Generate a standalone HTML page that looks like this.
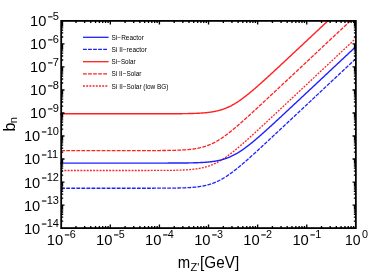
<!DOCTYPE html>
<html><head><meta charset="utf-8"><title>plot</title>
<style>html,body{margin:0;padding:0;background:#fff;}svg{display:block;will-change:transform;font-family:"Liberation Sans",sans-serif;}</style></head><body>
<svg width="368" height="273" viewBox="0 0 368 273">
<rect x="0" y="0" width="368" height="273" fill="#fff"/>
<defs><clipPath id="cp"><rect x="60.00" y="20.90" width="296.85" height="207.20"/></clipPath></defs>
<g clip-path="url(#cp)" fill="none" stroke-linejoin="round">
<path d="M60.00 113.80 L60.50 113.80 L61.00 113.80 L61.50 113.80 L62.00 113.80 L62.50 113.80 L63.00 113.80 L63.50 113.80 L64.00 113.80 L64.50 113.80 L65.00 113.80 L65.50 113.80 L66.00 113.80 L66.50 113.80 L67.00 113.80 L67.50 113.80 L68.00 113.80 L68.50 113.80 L69.00 113.80 L69.50 113.80 L70.00 113.80 L70.50 113.80 L71.00 113.80 L71.50 113.80 L72.00 113.80 L72.50 113.80 L73.00 113.80 L73.50 113.80 L74.00 113.80 L74.50 113.80 L75.00 113.80 L75.50 113.80 L76.00 113.80 L76.50 113.80 L77.00 113.80 L77.50 113.80 L78.00 113.80 L78.50 113.80 L79.00 113.80 L79.50 113.80 L80.00 113.80 L80.50 113.80 L81.00 113.80 L81.50 113.80 L82.00 113.80 L82.50 113.80 L83.00 113.80 L83.50 113.80 L84.00 113.80 L84.50 113.80 L85.00 113.80 L85.50 113.80 L86.00 113.80 L86.50 113.80 L87.00 113.80 L87.50 113.80 L88.00 113.80 L88.50 113.80 L89.00 113.80 L89.50 113.80 L90.00 113.80 L90.50 113.80 L91.00 113.80 L91.50 113.80 L92.00 113.80 L92.50 113.80 L93.00 113.80 L93.50 113.80 L94.00 113.80 L94.50 113.80 L95.00 113.80 L95.50 113.80 L96.00 113.80 L96.50 113.80 L97.00 113.80 L97.50 113.80 L98.00 113.80 L98.50 113.80 L99.00 113.80 L99.50 113.80 L100.00 113.80 L100.50 113.80 L101.00 113.80 L101.50 113.80 L102.00 113.80 L102.50 113.80 L103.00 113.80 L103.50 113.80 L104.00 113.80 L104.50 113.80 L105.00 113.80 L105.50 113.80 L106.00 113.80 L106.50 113.80 L107.00 113.80 L107.50 113.80 L108.00 113.80 L108.50 113.80 L109.00 113.80 L109.50 113.80 L110.00 113.80 L110.50 113.80 L111.00 113.80 L111.50 113.80 L112.00 113.80 L112.50 113.80 L113.00 113.80 L113.50 113.80 L114.00 113.80 L114.50 113.80 L115.00 113.80 L115.50 113.80 L116.00 113.80 L116.50 113.80 L117.00 113.80 L117.50 113.80 L118.00 113.80 L118.50 113.80 L119.00 113.80 L119.50 113.80 L120.00 113.80 L120.50 113.80 L121.00 113.80 L121.50 113.80 L122.00 113.80 L122.50 113.80 L123.00 113.80 L123.50 113.80 L124.00 113.80 L124.50 113.80 L125.00 113.80 L125.50 113.80 L126.00 113.80 L126.50 113.80 L127.00 113.80 L127.50 113.80 L128.00 113.80 L128.50 113.80 L129.00 113.80 L129.50 113.80 L130.00 113.80 L130.50 113.80 L131.00 113.80 L131.50 113.80 L132.00 113.80 L132.50 113.80 L133.00 113.80 L133.50 113.80 L134.00 113.80 L134.50 113.80 L135.00 113.80 L135.50 113.80 L136.00 113.80 L136.50 113.80 L137.00 113.80 L137.50 113.80 L138.00 113.80 L138.50 113.80 L139.00 113.80 L139.50 113.80 L140.00 113.80 L140.50 113.80 L141.00 113.80 L141.50 113.80 L142.00 113.80 L142.50 113.80 L143.00 113.80 L143.50 113.80 L144.00 113.80 L144.50 113.80 L145.00 113.80 L145.50 113.80 L146.00 113.80 L146.50 113.80 L147.00 113.80 L147.50 113.80 L148.00 113.79 L148.50 113.79 L149.00 113.79 L149.50 113.79 L150.00 113.79 L150.50 113.79 L151.00 113.79 L151.50 113.79 L152.00 113.79 L152.50 113.79 L153.00 113.79 L153.50 113.79 L154.00 113.79 L154.50 113.79 L155.00 113.79 L155.50 113.79 L156.00 113.79 L156.50 113.79 L157.00 113.79 L157.50 113.79 L158.00 113.79 L158.50 113.79 L159.00 113.79 L159.50 113.78 L160.00 113.78 L160.50 113.78 L161.00 113.78 L161.50 113.78 L162.00 113.78 L162.50 113.78 L163.00 113.78 L163.50 113.78 L164.00 113.78 L164.50 113.78 L165.00 113.77 L165.50 113.77 L166.00 113.77 L166.50 113.77 L167.00 113.77 L167.50 113.77 L168.00 113.77 L168.50 113.77 L169.00 113.76 L169.50 113.76 L170.00 113.76 L170.50 113.76 L171.00 113.76 L171.50 113.75 L172.00 113.75 L172.50 113.75 L173.00 113.75 L173.50 113.74 L174.00 113.74 L174.50 113.74 L175.00 113.74 L175.50 113.73 L176.00 113.73 L176.50 113.73 L177.00 113.72 L177.50 113.72 L178.00 113.72 L178.50 113.71 L179.00 113.71 L179.50 113.70 L180.00 113.70 L180.50 113.69 L181.00 113.69 L181.50 113.68 L182.00 113.68 L182.50 113.67 L183.00 113.66 L183.50 113.66 L184.00 113.65 L184.50 113.64 L185.00 113.64 L185.50 113.63 L186.00 113.62 L186.50 113.61 L187.00 113.60 L187.50 113.59 L188.00 113.58 L188.50 113.57 L189.00 113.56 L189.50 113.55 L190.00 113.54 L190.50 113.53 L191.00 113.52 L191.50 113.50 L192.00 113.49 L192.50 113.47 L193.00 113.46 L193.50 113.44 L194.00 113.42 L194.50 113.41 L195.00 113.39 L195.50 113.37 L196.00 113.35 L196.50 113.33 L197.00 113.31 L197.50 113.28 L198.00 113.26 L198.50 113.23 L199.00 113.21 L199.50 113.18 L200.00 113.15 L200.50 113.12 L201.00 113.09 L201.50 113.06 L202.00 113.02 L202.50 112.99 L203.00 112.95 L203.50 112.91 L204.00 112.87 L204.50 112.83 L205.00 112.78 L205.50 112.73 L206.00 112.69 L206.50 112.64 L207.00 112.58 L207.50 112.53 L208.00 112.47 L208.50 112.41 L209.00 112.35 L209.50 112.28 L210.00 112.22 L210.50 112.15 L211.00 112.07 L211.50 112.00 L212.00 111.92 L212.50 111.84 L213.00 111.75 L213.50 111.66 L214.00 111.57 L214.50 111.48 L215.00 111.38 L215.50 111.27 L216.00 111.17 L216.50 111.06 L217.00 110.94 L217.50 110.82 L218.00 110.70 L218.50 110.58 L219.00 110.44 L219.50 110.31 L220.00 110.17 L220.50 110.02 L221.00 109.87 L221.50 109.72 L222.00 109.56 L222.50 109.39 L223.00 109.22 L223.50 109.05 L224.00 108.87 L224.50 108.68 L225.00 108.49 L225.50 108.30 L226.00 108.10 L226.50 107.89 L227.00 107.68 L227.50 107.46 L228.00 107.24 L228.50 107.01 L229.00 106.78 L229.50 106.54 L230.00 106.29 L230.50 106.04 L231.00 105.79 L231.50 105.52 L232.00 105.26 L232.50 104.99 L233.00 104.71 L233.50 104.43 L234.00 104.14 L234.50 103.84 L235.00 103.55 L235.50 103.24 L236.00 102.93 L236.50 102.62 L237.00 102.30 L237.50 101.98 L238.00 101.65 L238.50 101.32 L239.00 100.99 L239.50 100.64 L240.00 100.30 L240.50 99.95 L241.00 99.60 L241.50 99.24 L242.00 98.88 L242.50 98.51 L243.00 98.14 L243.50 97.77 L244.00 97.39 L244.50 97.01 L245.00 96.63 L245.50 96.25 L246.00 95.86 L246.50 95.46 L247.00 95.07 L247.50 94.67 L248.00 94.27 L248.50 93.87 L249.00 93.46 L249.50 93.05 L250.00 92.64 L250.50 92.23 L251.00 91.81 L251.50 91.39 L252.00 90.97 L252.50 90.55 L253.00 90.13 L253.50 89.70 L254.00 89.27 L254.50 88.84 L255.00 88.41 L255.50 87.98 L256.00 87.55 L256.50 87.11 L257.00 86.67 L257.50 86.23 L258.00 85.80 L258.50 85.35 L259.00 84.91 L259.50 84.47 L260.00 84.02 L260.50 83.58 L261.00 83.13 L261.50 82.68 L262.00 82.24 L262.50 81.79 L263.00 81.34 L263.50 80.89 L264.00 80.43 L264.50 79.98 L265.00 79.53 L265.50 79.07 L266.00 78.62 L266.50 78.16 L267.00 77.71 L267.50 77.25 L268.00 76.80 L268.50 76.34 L269.00 75.88 L269.50 75.42 L270.00 74.96 L270.50 74.50 L271.00 74.04 L271.50 73.58 L272.00 73.12 L272.50 72.66 L273.00 72.20 L273.50 71.74 L274.00 71.28 L274.50 70.81 L275.00 70.35 L275.50 69.89 L276.00 69.43 L276.50 68.96 L277.00 68.50 L277.50 68.04 L278.00 67.57 L278.50 67.11 L279.00 66.64 L279.50 66.18 L280.00 65.71 L280.50 65.25 L281.00 64.78 L281.50 64.32 L282.00 63.85 L282.50 63.39 L283.00 62.92 L283.50 62.45 L284.00 61.99 L284.50 61.52 L285.00 61.06 L285.50 60.59 L286.00 60.12 L286.50 59.66 L287.00 59.19 L287.50 58.72 L288.00 58.25 L288.50 57.79 L289.00 57.32 L289.50 56.85 L290.00 56.39 L290.50 55.92 L291.00 55.45 L291.50 54.98 L292.00 54.52 L292.50 54.05 L293.00 53.58 L293.50 53.11 L294.00 52.65 L294.50 52.18 L295.00 51.71 L295.50 51.24 L296.00 50.77 L296.50 50.31 L297.00 49.84 L297.50 49.37 L298.00 48.90 L298.50 48.43 L299.00 47.97 L299.50 47.50 L300.00 47.03 L300.50 46.56 L301.00 46.09 L301.50 45.62 L302.00 45.16 L302.50 44.69 L303.00 44.22 L303.50 43.75 L304.00 43.28 L304.50 42.81 L305.00 42.35 L305.50 41.88 L306.00 41.41 L306.50 40.94 L307.00 40.47 L307.50 40.00 L308.00 39.54 L308.50 39.07 L309.00 38.60 L309.50 38.13 L310.00 37.66 L310.50 37.19 L311.00 36.72 L311.50 36.26 L312.00 35.79 L312.50 35.32 L313.00 34.85 L313.50 34.38 L314.00 33.91 L314.50 33.44 L315.00 32.97 L315.50 32.51 L316.00 32.04 L316.50 31.57 L317.00 31.10 L317.50 30.63 L318.00 30.16 L318.50 29.69 L319.00 29.23 L319.50 28.76 L320.00 28.29 L320.50 27.82 L321.00 27.35 L321.50 26.88 L322.00 26.41 L322.50 25.94 L323.00 25.48 L323.50 25.01 L324.00 24.54 L324.50 24.07 L325.00 23.60 L325.50 23.13 L326.00 22.66 L326.50 22.19 L327.00 21.73 L327.50 21.26 L328.00 20.79 L328.50 20.32 L329.00 19.85 L329.50 19.38 L330.00 18.91 L330.50 18.44 L331.00 17.98 L331.50 17.51 L332.00 17.04 L332.50 16.57 L333.00 16.10 L333.50 15.63 L334.00 15.16 L334.50 14.69 L335.00 14.23 L335.50 13.76 L336.00 13.29 L336.50 12.82 L337.00 12.35 L337.50 11.88 L338.00 11.41 L338.50 10.94 L339.00 10.48 L339.50 10.01 L340.00 9.54 L340.50 9.07 L341.00 8.60 L341.50 8.13 L342.00 7.66 L342.50 7.19 L343.00 6.72 L343.50 6.26 L344.00 5.79 L344.50 5.32 L345.00 4.85 L345.50 4.38 L346.00 3.91 L346.50 3.44 L347.00 2.97 L347.50 2.51 L348.00 2.04 L348.50 1.57 L349.00 1.10 L349.50 0.63 L350.00 0.16 L350.50 -0.31 L351.00 -0.78 L351.50 -1.24 L352.00 -1.71 L352.50 -2.18 L353.00 -2.65 L353.50 -3.12 L354.00 -3.59 L354.50 -4.06 L355.00 -4.53 L355.50 -5.00 L356.00 -5.46" stroke="#ff2020" stroke-width="1.40"/>
<path d="M61.20 150.60 L61.70 150.60 L62.20 150.60 L62.70 150.60 L63.20 150.60 L63.70 150.60 L64.20 150.60 L64.70 150.60 L65.20 150.60 L65.70 150.60 L66.20 150.60 L66.70 150.60 L67.20 150.60 L67.70 150.60 L68.20 150.60 L68.70 150.60 L69.20 150.60 L69.70 150.60 L70.20 150.60 L70.70 150.60 L71.20 150.60 L71.70 150.60 L72.20 150.60 L72.70 150.60 L73.20 150.60 L73.70 150.60 L74.20 150.60 L74.70 150.60 L75.20 150.60 L75.70 150.60 L76.20 150.60 L76.70 150.60 L77.20 150.60 L77.70 150.60 L78.20 150.60 L78.70 150.60 L79.20 150.60 L79.70 150.60 L80.20 150.60 L80.70 150.60 L81.20 150.60 L81.70 150.60 L82.20 150.60 L82.70 150.60 L83.20 150.60 L83.70 150.60 L84.20 150.60 L84.70 150.60 L85.20 150.60 L85.70 150.60 L86.20 150.60 L86.70 150.60 L87.20 150.60 L87.70 150.60 L88.20 150.60 L88.70 150.60 L89.20 150.60 L89.70 150.60 L90.20 150.60 L90.70 150.60 L91.20 150.60 L91.70 150.60 L92.20 150.60 L92.70 150.60 L93.20 150.60 L93.70 150.60 L94.20 150.60 L94.70 150.60 L95.20 150.60 L95.70 150.60 L96.20 150.60 L96.70 150.60 L97.20 150.60 L97.70 150.60 L98.20 150.60 L98.70 150.60 L99.20 150.60 L99.70 150.60 L100.20 150.60 L100.70 150.60 L101.20 150.60 L101.70 150.60 L102.20 150.60 L102.70 150.60 L103.20 150.60 L103.70 150.60 L104.20 150.60 L104.70 150.60 L105.20 150.60 L105.70 150.60 L106.20 150.60 L106.70 150.60 L107.20 150.60 L107.70 150.60 L108.20 150.60 L108.70 150.60 L109.20 150.60 L109.70 150.60 L110.20 150.60 L110.70 150.60 L111.20 150.60 L111.70 150.60 L112.20 150.60 L112.70 150.60 L113.20 150.60 L113.70 150.60 L114.20 150.60 L114.70 150.60 L115.20 150.60 L115.70 150.60 L116.20 150.60 L116.70 150.60 L117.20 150.60 L117.70 150.60 L118.20 150.60 L118.70 150.60 L119.20 150.60 L119.70 150.60 L120.20 150.60 L120.70 150.60 L121.20 150.60 L121.70 150.60 L122.20 150.60 L122.70 150.60 L123.20 150.60 L123.70 150.60 L124.20 150.60 L124.70 150.60 L125.20 150.60 L125.70 150.60 L126.20 150.60 L126.70 150.60 L127.20 150.60 L127.70 150.60 L128.20 150.60 L128.70 150.60 L129.20 150.60 L129.70 150.60 L130.20 150.60 L130.70 150.60 L131.20 150.59 L131.70 150.59 L132.20 150.59 L132.70 150.59 L133.20 150.59 L133.70 150.59 L134.20 150.59 L134.70 150.59 L135.20 150.59 L135.70 150.59 L136.20 150.59 L136.70 150.59 L137.20 150.59 L137.70 150.59 L138.20 150.59 L138.70 150.59 L139.20 150.59 L139.70 150.59 L140.20 150.59 L140.70 150.59 L141.20 150.59 L141.70 150.59 L142.20 150.59 L142.70 150.58 L143.20 150.58 L143.70 150.58 L144.20 150.58 L144.70 150.58 L145.20 150.58 L145.70 150.58 L146.20 150.58 L146.70 150.58 L147.20 150.58 L147.70 150.58 L148.20 150.57 L148.70 150.57 L149.20 150.57 L149.70 150.57 L150.20 150.57 L150.70 150.57 L151.20 150.57 L151.70 150.57 L152.20 150.56 L152.70 150.56 L153.20 150.56 L153.70 150.56 L154.20 150.56 L154.70 150.55 L155.20 150.55 L155.70 150.55 L156.20 150.55 L156.70 150.54 L157.20 150.54 L157.70 150.54 L158.20 150.54 L158.70 150.53 L159.20 150.53 L159.70 150.53 L160.20 150.52 L160.70 150.52 L161.20 150.52 L161.70 150.51 L162.20 150.51 L162.70 150.50 L163.20 150.50 L163.70 150.49 L164.20 150.49 L164.70 150.48 L165.20 150.48 L165.70 150.47 L166.20 150.46 L166.70 150.46 L167.20 150.45 L167.70 150.44 L168.20 150.44 L168.70 150.43 L169.20 150.42 L169.70 150.41 L170.20 150.40 L170.70 150.39 L171.20 150.38 L171.70 150.37 L172.20 150.36 L172.70 150.35 L173.20 150.34 L173.70 150.33 L174.20 150.32 L174.70 150.30 L175.20 150.29 L175.70 150.27 L176.20 150.26 L176.70 150.24 L177.20 150.22 L177.70 150.21 L178.20 150.19 L178.70 150.17 L179.20 150.15 L179.70 150.13 L180.20 150.11 L180.70 150.08 L181.20 150.06 L181.70 150.03 L182.20 150.01 L182.70 149.98 L183.20 149.95 L183.70 149.92 L184.20 149.89 L184.70 149.86 L185.20 149.82 L185.70 149.79 L186.20 149.75 L186.70 149.71 L187.20 149.67 L187.70 149.63 L188.20 149.58 L188.70 149.53 L189.20 149.49 L189.70 149.44 L190.20 149.38 L190.70 149.33 L191.20 149.27 L191.70 149.21 L192.20 149.15 L192.70 149.08 L193.20 149.02 L193.70 148.95 L194.20 148.87 L194.70 148.80 L195.20 148.72 L195.70 148.64 L196.20 148.55 L196.70 148.46 L197.20 148.37 L197.70 148.28 L198.20 148.18 L198.70 148.07 L199.20 147.97 L199.70 147.86 L200.20 147.74 L200.70 147.62 L201.20 147.50 L201.70 147.38 L202.20 147.24 L202.70 147.11 L203.20 146.97 L203.70 146.82 L204.20 146.67 L204.70 146.52 L205.20 146.36 L205.70 146.19 L206.20 146.02 L206.70 145.85 L207.20 145.67 L207.70 145.48 L208.20 145.29 L208.70 145.10 L209.20 144.90 L209.70 144.69 L210.20 144.48 L210.70 144.26 L211.20 144.04 L211.70 143.81 L212.20 143.58 L212.70 143.34 L213.20 143.09 L213.70 142.84 L214.20 142.59 L214.70 142.32 L215.20 142.06 L215.70 141.79 L216.20 141.51 L216.70 141.23 L217.20 140.94 L217.70 140.64 L218.20 140.35 L218.70 140.04 L219.20 139.73 L219.70 139.42 L220.20 139.10 L220.70 138.78 L221.20 138.45 L221.70 138.12 L222.20 137.79 L222.70 137.44 L223.20 137.10 L223.70 136.75 L224.20 136.40 L224.70 136.04 L225.20 135.68 L225.70 135.31 L226.20 134.94 L226.70 134.57 L227.20 134.19 L227.70 133.81 L228.20 133.43 L228.70 133.05 L229.20 132.66 L229.70 132.26 L230.20 131.87 L230.70 131.47 L231.20 131.07 L231.70 130.67 L232.20 130.26 L232.70 129.85 L233.20 129.44 L233.70 129.03 L234.20 128.61 L234.70 128.19 L235.20 127.77 L235.70 127.35 L236.20 126.93 L236.70 126.50 L237.20 126.07 L237.70 125.64 L238.20 125.21 L238.70 124.78 L239.20 124.35 L239.70 123.91 L240.20 123.47 L240.70 123.03 L241.20 122.60 L241.70 122.15 L242.20 121.71 L242.70 121.27 L243.20 120.82 L243.70 120.38 L244.20 119.93 L244.70 119.48 L245.20 119.04 L245.70 118.59 L246.20 118.14 L246.70 117.69 L247.20 117.23 L247.70 116.78 L248.20 116.33 L248.70 115.87 L249.20 115.42 L249.70 114.96 L250.20 114.51 L250.70 114.05 L251.20 113.60 L251.70 113.14 L252.20 112.68 L252.70 112.22 L253.20 111.76 L253.70 111.30 L254.20 110.84 L254.70 110.38 L255.20 109.92 L255.70 109.46 L256.20 109.00 L256.70 108.54 L257.20 108.08 L257.70 107.61 L258.20 107.15 L258.70 106.69 L259.20 106.23 L259.70 105.76 L260.20 105.30 L260.70 104.84 L261.20 104.37 L261.70 103.91 L262.20 103.44 L262.70 102.98 L263.20 102.51 L263.70 102.05 L264.20 101.58 L264.70 101.12 L265.20 100.65 L265.70 100.19 L266.20 99.72 L266.70 99.25 L267.20 98.79 L267.70 98.32 L268.20 97.86 L268.70 97.39 L269.20 96.92 L269.70 96.46 L270.20 95.99 L270.70 95.52 L271.20 95.05 L271.70 94.59 L272.20 94.12 L272.70 93.65 L273.20 93.19 L273.70 92.72 L274.20 92.25 L274.70 91.78 L275.20 91.32 L275.70 90.85 L276.20 90.38 L276.70 89.91 L277.20 89.45 L277.70 88.98 L278.20 88.51 L278.70 88.04 L279.20 87.57 L279.70 87.11 L280.20 86.64 L280.70 86.17 L281.20 85.70 L281.70 85.23 L282.20 84.77 L282.70 84.30 L283.20 83.83 L283.70 83.36 L284.20 82.89 L284.70 82.42 L285.20 81.96 L285.70 81.49 L286.20 81.02 L286.70 80.55 L287.20 80.08 L287.70 79.61 L288.20 79.15 L288.70 78.68 L289.20 78.21 L289.70 77.74 L290.20 77.27 L290.70 76.80 L291.20 76.34 L291.70 75.87 L292.20 75.40 L292.70 74.93 L293.20 74.46 L293.70 73.99 L294.20 73.52 L294.70 73.06 L295.20 72.59 L295.70 72.12 L296.20 71.65 L296.70 71.18 L297.20 70.71 L297.70 70.24 L298.20 69.77 L298.70 69.31 L299.20 68.84 L299.70 68.37 L300.20 67.90 L300.70 67.43 L301.20 66.96 L301.70 66.49 L302.20 66.03 L302.70 65.56 L303.20 65.09 L303.70 64.62 L304.20 64.15 L304.70 63.68 L305.20 63.21 L305.70 62.74 L306.20 62.28 L306.70 61.81 L307.20 61.34 L307.70 60.87 L308.20 60.40 L308.70 59.93 L309.20 59.46 L309.70 58.99 L310.20 58.53 L310.70 58.06 L311.20 57.59 L311.70 57.12 L312.20 56.65 L312.70 56.18 L313.20 55.71 L313.70 55.24 L314.20 54.78 L314.70 54.31 L315.20 53.84 L315.70 53.37 L316.20 52.90 L316.70 52.43 L317.20 51.96 L317.70 51.49 L318.20 51.03 L318.70 50.56 L319.20 50.09 L319.70 49.62 L320.20 49.15 L320.70 48.68 L321.20 48.21 L321.70 47.74 L322.20 47.28 L322.70 46.81 L323.20 46.34 L323.70 45.87 L324.20 45.40 L324.70 44.93 L325.20 44.46 L325.70 43.99 L326.20 43.52 L326.70 43.06 L327.20 42.59 L327.70 42.12 L328.20 41.65 L328.70 41.18 L329.20 40.71 L329.70 40.24 L330.20 39.77 L330.70 39.31 L331.20 38.84 L331.70 38.37 L332.20 37.90 L332.70 37.43 L333.20 36.96 L333.70 36.49 L334.20 36.02 L334.70 35.56 L335.20 35.09 L335.70 34.62 L336.20 34.15 L336.70 33.68 L337.20 33.21 L337.70 32.74 L338.20 32.27 L338.70 31.80 L339.20 31.34 L339.70 30.87 L340.20 30.40 L340.70 29.93 L341.20 29.46 L341.70 28.99 L342.20 28.52 L342.70 28.05 L343.20 27.59 L343.70 27.12 L344.20 26.65 L344.70 26.18 L345.20 25.71 L345.70 25.24 L346.20 24.77 L346.70 24.30 L347.20 23.84 L347.70 23.37 L348.20 22.90 L348.70 22.43 L349.20 21.96 L349.70 21.49 L350.20 21.02 L350.70 20.55 L351.20 20.08 L351.70 19.62 L352.20 19.15 L352.70 18.68 L353.20 18.21 L353.70 17.74 L354.20 17.27 L354.70 16.80 L355.20 16.33 L355.70 15.87" stroke="#ff2020" stroke-width="1.30" stroke-dasharray="3.8 1.25"/>
<path d="M61.20 170.50 L61.70 170.50 L62.20 170.50 L62.70 170.50 L63.20 170.50 L63.70 170.50 L64.20 170.50 L64.70 170.50 L65.20 170.50 L65.70 170.50 L66.20 170.50 L66.70 170.50 L67.20 170.50 L67.70 170.50 L68.20 170.50 L68.70 170.50 L69.20 170.50 L69.70 170.50 L70.20 170.50 L70.70 170.50 L71.20 170.50 L71.70 170.50 L72.20 170.50 L72.70 170.50 L73.20 170.50 L73.70 170.50 L74.20 170.50 L74.70 170.50 L75.20 170.50 L75.70 170.50 L76.20 170.50 L76.70 170.50 L77.20 170.50 L77.70 170.50 L78.20 170.50 L78.70 170.50 L79.20 170.50 L79.70 170.50 L80.20 170.50 L80.70 170.50 L81.20 170.50 L81.70 170.50 L82.20 170.50 L82.70 170.50 L83.20 170.50 L83.70 170.50 L84.20 170.50 L84.70 170.50 L85.20 170.50 L85.70 170.50 L86.20 170.50 L86.70 170.50 L87.20 170.50 L87.70 170.50 L88.20 170.50 L88.70 170.50 L89.20 170.50 L89.70 170.50 L90.20 170.50 L90.70 170.50 L91.20 170.50 L91.70 170.50 L92.20 170.50 L92.70 170.50 L93.20 170.50 L93.70 170.50 L94.20 170.50 L94.70 170.50 L95.20 170.50 L95.70 170.50 L96.20 170.50 L96.70 170.50 L97.20 170.50 L97.70 170.50 L98.20 170.50 L98.70 170.50 L99.20 170.50 L99.70 170.50 L100.20 170.50 L100.70 170.50 L101.20 170.50 L101.70 170.50 L102.20 170.50 L102.70 170.50 L103.20 170.50 L103.70 170.50 L104.20 170.50 L104.70 170.50 L105.20 170.50 L105.70 170.50 L106.20 170.50 L106.70 170.50 L107.20 170.50 L107.70 170.50 L108.20 170.50 L108.70 170.50 L109.20 170.50 L109.70 170.50 L110.20 170.50 L110.70 170.50 L111.20 170.50 L111.70 170.50 L112.20 170.50 L112.70 170.50 L113.20 170.50 L113.70 170.50 L114.20 170.50 L114.70 170.50 L115.20 170.50 L115.70 170.50 L116.20 170.50 L116.70 170.50 L117.20 170.50 L117.70 170.50 L118.20 170.50 L118.70 170.50 L119.20 170.50 L119.70 170.50 L120.20 170.50 L120.70 170.50 L121.20 170.50 L121.70 170.50 L122.20 170.50 L122.70 170.50 L123.20 170.50 L123.70 170.50 L124.20 170.50 L124.70 170.50 L125.20 170.50 L125.70 170.50 L126.20 170.50 L126.70 170.50 L127.20 170.50 L127.70 170.50 L128.20 170.50 L128.70 170.50 L129.20 170.50 L129.70 170.50 L130.20 170.50 L130.70 170.50 L131.20 170.50 L131.70 170.50 L132.20 170.50 L132.70 170.50 L133.20 170.50 L133.70 170.50 L134.20 170.49 L134.70 170.49 L135.20 170.49 L135.70 170.49 L136.20 170.49 L136.70 170.49 L137.20 170.49 L137.70 170.49 L138.20 170.49 L138.70 170.49 L139.20 170.49 L139.70 170.49 L140.20 170.49 L140.70 170.49 L141.20 170.49 L141.70 170.49 L142.20 170.49 L142.70 170.49 L143.20 170.49 L143.70 170.49 L144.20 170.49 L144.70 170.49 L145.20 170.49 L145.70 170.48 L146.20 170.48 L146.70 170.48 L147.20 170.48 L147.70 170.48 L148.20 170.48 L148.70 170.48 L149.20 170.48 L149.70 170.48 L150.20 170.48 L150.70 170.48 L151.20 170.47 L151.70 170.47 L152.20 170.47 L152.70 170.47 L153.20 170.47 L153.70 170.47 L154.20 170.47 L154.70 170.46 L155.20 170.46 L155.70 170.46 L156.20 170.46 L156.70 170.46 L157.20 170.46 L157.70 170.45 L158.20 170.45 L158.70 170.45 L159.20 170.45 L159.70 170.44 L160.20 170.44 L160.70 170.44 L161.20 170.44 L161.70 170.43 L162.20 170.43 L162.70 170.43 L163.20 170.42 L163.70 170.42 L164.20 170.41 L164.70 170.41 L165.20 170.41 L165.70 170.40 L166.20 170.40 L166.70 170.39 L167.20 170.39 L167.70 170.38 L168.20 170.38 L168.70 170.37 L169.20 170.36 L169.70 170.36 L170.20 170.35 L170.70 170.34 L171.20 170.34 L171.70 170.33 L172.20 170.32 L172.70 170.31 L173.20 170.30 L173.70 170.29 L174.20 170.28 L174.70 170.27 L175.20 170.26 L175.70 170.25 L176.20 170.24 L176.70 170.23 L177.20 170.21 L177.70 170.20 L178.20 170.18 L178.70 170.17 L179.20 170.15 L179.70 170.14 L180.20 170.12 L180.70 170.10 L181.20 170.08 L181.70 170.07 L182.20 170.04 L182.70 170.02 L183.20 170.00 L183.70 169.98 L184.20 169.95 L184.70 169.93 L185.20 169.90 L185.70 169.87 L186.20 169.84 L186.70 169.81 L187.20 169.78 L187.70 169.75 L188.20 169.71 L188.70 169.68 L189.20 169.64 L189.70 169.60 L190.20 169.56 L190.70 169.52 L191.20 169.47 L191.70 169.42 L192.20 169.38 L192.70 169.32 L193.20 169.27 L193.70 169.22 L194.20 169.16 L194.70 169.10 L195.20 169.04 L195.70 168.97 L196.20 168.90 L196.70 168.83 L197.20 168.76 L197.70 168.68 L198.20 168.60 L198.70 168.52 L199.20 168.44 L199.70 168.35 L200.20 168.25 L200.70 168.16 L201.20 168.06 L201.70 167.95 L202.20 167.85 L202.70 167.74 L203.20 167.62 L203.70 167.50 L204.20 167.38 L204.70 167.25 L205.20 167.12 L205.70 166.98 L206.20 166.84 L206.70 166.69 L207.20 166.54 L207.70 166.39 L208.20 166.23 L208.70 166.06 L209.20 165.89 L209.70 165.71 L210.20 165.53 L210.70 165.35 L211.20 165.15 L211.70 164.96 L212.20 164.76 L212.70 164.55 L213.20 164.33 L213.70 164.12 L214.20 163.89 L214.70 163.66 L215.20 163.43 L215.70 163.19 L216.20 162.94 L216.70 162.69 L217.20 162.43 L217.70 162.17 L218.20 161.90 L218.70 161.63 L219.20 161.35 L219.70 161.07 L220.20 160.78 L220.70 160.49 L221.20 160.19 L221.70 159.88 L222.20 159.57 L222.70 159.26 L223.20 158.94 L223.70 158.62 L224.20 158.29 L224.70 157.95 L225.20 157.62 L225.70 157.28 L226.20 156.93 L226.70 156.58 L227.20 156.23 L227.70 155.87 L228.20 155.50 L228.70 155.14 L229.20 154.77 L229.70 154.40 L230.20 154.02 L230.70 153.64 L231.20 153.25 L231.70 152.87 L232.20 152.48 L232.70 152.08 L233.20 151.69 L233.70 151.29 L234.20 150.89 L234.70 150.48 L235.20 150.08 L235.70 149.67 L236.20 149.26 L236.70 148.84 L237.20 148.43 L237.70 148.01 L238.20 147.59 L238.70 147.17 L239.20 146.74 L239.70 146.32 L240.20 145.89 L240.70 145.46 L241.20 145.03 L241.70 144.59 L242.20 144.16 L242.70 143.72 L243.20 143.29 L243.70 142.85 L244.20 142.41 L244.70 141.97 L245.20 141.52 L245.70 141.08 L246.20 140.64 L246.70 140.19 L247.20 139.74 L247.70 139.30 L248.20 138.85 L248.70 138.40 L249.20 137.95 L249.70 137.50 L250.20 137.04 L250.70 136.59 L251.20 136.14 L251.70 135.68 L252.20 135.23 L252.70 134.77 L253.20 134.32 L253.70 133.86 L254.20 133.40 L254.70 132.95 L255.20 132.49 L255.70 132.03 L256.20 131.57 L256.70 131.11 L257.20 130.65 L257.70 130.19 L258.20 129.73 L258.70 129.27 L259.20 128.81 L259.70 128.35 L260.20 127.88 L260.70 127.42 L261.20 126.96 L261.70 126.50 L262.20 126.03 L262.70 125.57 L263.20 125.11 L263.70 124.64 L264.20 124.18 L264.70 123.71 L265.20 123.25 L265.70 122.78 L266.20 122.32 L266.70 121.85 L267.20 121.39 L267.70 120.92 L268.20 120.46 L268.70 119.99 L269.20 119.53 L269.70 119.06 L270.20 118.59 L270.70 118.13 L271.20 117.66 L271.70 117.20 L272.20 116.73 L272.70 116.26 L273.20 115.80 L273.70 115.33 L274.20 114.86 L274.70 114.39 L275.20 113.93 L275.70 113.46 L276.20 112.99 L276.70 112.53 L277.20 112.06 L277.70 111.59 L278.20 111.12 L278.70 110.66 L279.20 110.19 L279.70 109.72 L280.20 109.25 L280.70 108.78 L281.20 108.32 L281.70 107.85 L282.20 107.38 L282.70 106.91 L283.20 106.44 L283.70 105.98 L284.20 105.51 L284.70 105.04 L285.20 104.57 L285.70 104.10 L286.20 103.64 L286.70 103.17 L287.20 102.70 L287.70 102.23 L288.20 101.76 L288.70 101.29 L289.20 100.83 L289.70 100.36 L290.20 99.89 L290.70 99.42 L291.20 98.95 L291.70 98.48 L292.20 98.02 L292.70 97.55 L293.20 97.08 L293.70 96.61 L294.20 96.14 L294.70 95.67 L295.20 95.20 L295.70 94.74 L296.20 94.27 L296.70 93.80 L297.20 93.33 L297.70 92.86 L298.20 92.39 L298.70 91.92 L299.20 91.46 L299.70 90.99 L300.20 90.52 L300.70 90.05 L301.20 89.58 L301.70 89.11 L302.20 88.64 L302.70 88.18 L303.20 87.71 L303.70 87.24 L304.20 86.77 L304.70 86.30 L305.20 85.83 L305.70 85.36 L306.20 84.89 L306.70 84.43 L307.20 83.96 L307.70 83.49 L308.20 83.02 L308.70 82.55 L309.20 82.08 L309.70 81.61 L310.20 81.14 L310.70 80.68 L311.20 80.21 L311.70 79.74 L312.20 79.27 L312.70 78.80 L313.20 78.33 L313.70 77.86 L314.20 77.39 L314.70 76.93 L315.20 76.46 L315.70 75.99 L316.20 75.52 L316.70 75.05 L317.20 74.58 L317.70 74.11 L318.20 73.64 L318.70 73.18 L319.20 72.71 L319.70 72.24 L320.20 71.77 L320.70 71.30 L321.20 70.83 L321.70 70.36 L322.20 69.89 L322.70 69.43 L323.20 68.96 L323.70 68.49 L324.20 68.02 L324.70 67.55 L325.20 67.08 L325.70 66.61 L326.20 66.14 L326.70 65.67 L327.20 65.21 L327.70 64.74 L328.20 64.27 L328.70 63.80 L329.20 63.33 L329.70 62.86 L330.20 62.39 L330.70 61.92 L331.20 61.46 L331.70 60.99 L332.20 60.52 L332.70 60.05 L333.20 59.58 L333.70 59.11 L334.20 58.64 L334.70 58.17 L335.20 57.71 L335.70 57.24 L336.20 56.77 L336.70 56.30 L337.20 55.83 L337.70 55.36 L338.20 54.89 L338.70 54.42 L339.20 53.96 L339.70 53.49 L340.20 53.02 L340.70 52.55 L341.20 52.08 L341.70 51.61 L342.20 51.14 L342.70 50.67 L343.20 50.20 L343.70 49.74 L344.20 49.27 L344.70 48.80 L345.20 48.33 L345.70 47.86 L346.20 47.39 L346.70 46.92 L347.20 46.45 L347.70 45.99 L348.20 45.52 L348.70 45.05 L349.20 44.58 L349.70 44.11 L350.20 43.64 L350.70 43.17 L351.20 42.70 L351.70 42.23 L352.20 41.77 L352.70 41.30 L353.20 40.83 L353.70 40.36 L354.20 39.89 L354.70 39.42 L355.20 38.95 L355.70 38.48" stroke="#ff2020" stroke-width="1.30" stroke-dasharray="1.9 1.3"/>
<path d="M60.00 163.10 L60.50 163.10 L61.00 163.10 L61.50 163.10 L62.00 163.10 L62.50 163.10 L63.00 163.10 L63.50 163.10 L64.00 163.10 L64.50 163.10 L65.00 163.10 L65.50 163.10 L66.00 163.10 L66.50 163.10 L67.00 163.10 L67.50 163.10 L68.00 163.10 L68.50 163.10 L69.00 163.10 L69.50 163.10 L70.00 163.10 L70.50 163.10 L71.00 163.10 L71.50 163.10 L72.00 163.10 L72.50 163.10 L73.00 163.10 L73.50 163.10 L74.00 163.10 L74.50 163.10 L75.00 163.10 L75.50 163.10 L76.00 163.10 L76.50 163.10 L77.00 163.10 L77.50 163.10 L78.00 163.10 L78.50 163.10 L79.00 163.10 L79.50 163.10 L80.00 163.10 L80.50 163.10 L81.00 163.10 L81.50 163.10 L82.00 163.10 L82.50 163.10 L83.00 163.10 L83.50 163.10 L84.00 163.10 L84.50 163.10 L85.00 163.10 L85.50 163.10 L86.00 163.10 L86.50 163.10 L87.00 163.10 L87.50 163.10 L88.00 163.10 L88.50 163.10 L89.00 163.10 L89.50 163.10 L90.00 163.10 L90.50 163.10 L91.00 163.10 L91.50 163.10 L92.00 163.10 L92.50 163.10 L93.00 163.10 L93.50 163.10 L94.00 163.10 L94.50 163.10 L95.00 163.10 L95.50 163.10 L96.00 163.10 L96.50 163.10 L97.00 163.10 L97.50 163.10 L98.00 163.10 L98.50 163.10 L99.00 163.10 L99.50 163.10 L100.00 163.10 L100.50 163.10 L101.00 163.10 L101.50 163.10 L102.00 163.10 L102.50 163.10 L103.00 163.10 L103.50 163.10 L104.00 163.10 L104.50 163.10 L105.00 163.10 L105.50 163.10 L106.00 163.10 L106.50 163.10 L107.00 163.10 L107.50 163.10 L108.00 163.10 L108.50 163.10 L109.00 163.10 L109.50 163.10 L110.00 163.10 L110.50 163.10 L111.00 163.10 L111.50 163.10 L112.00 163.10 L112.50 163.10 L113.00 163.10 L113.50 163.10 L114.00 163.10 L114.50 163.10 L115.00 163.10 L115.50 163.10 L116.00 163.10 L116.50 163.10 L117.00 163.10 L117.50 163.10 L118.00 163.10 L118.50 163.10 L119.00 163.10 L119.50 163.10 L120.00 163.10 L120.50 163.10 L121.00 163.10 L121.50 163.10 L122.00 163.10 L122.50 163.10 L123.00 163.10 L123.50 163.10 L124.00 163.10 L124.50 163.10 L125.00 163.10 L125.50 163.10 L126.00 163.10 L126.50 163.10 L127.00 163.10 L127.50 163.10 L128.00 163.10 L128.50 163.10 L129.00 163.10 L129.50 163.10 L130.00 163.10 L130.50 163.10 L131.00 163.10 L131.50 163.10 L132.00 163.10 L132.50 163.10 L133.00 163.10 L133.50 163.10 L134.00 163.10 L134.50 163.10 L135.00 163.10 L135.50 163.10 L136.00 163.10 L136.50 163.10 L137.00 163.10 L137.50 163.10 L138.00 163.10 L138.50 163.10 L139.00 163.10 L139.50 163.10 L140.00 163.10 L140.50 163.10 L141.00 163.10 L141.50 163.10 L142.00 163.10 L142.50 163.10 L143.00 163.10 L143.50 163.10 L144.00 163.10 L144.50 163.10 L145.00 163.10 L145.50 163.10 L146.00 163.10 L146.50 163.10 L147.00 163.10 L147.50 163.10 L148.00 163.10 L148.50 163.10 L149.00 163.10 L149.50 163.10 L150.00 163.10 L150.50 163.10 L151.00 163.09 L151.50 163.09 L152.00 163.09 L152.50 163.09 L153.00 163.09 L153.50 163.09 L154.00 163.09 L154.50 163.09 L155.00 163.09 L155.50 163.09 L156.00 163.09 L156.50 163.09 L157.00 163.09 L157.50 163.09 L158.00 163.09 L158.50 163.09 L159.00 163.09 L159.50 163.09 L160.00 163.09 L160.50 163.09 L161.00 163.09 L161.50 163.09 L162.00 163.09 L162.50 163.08 L163.00 163.08 L163.50 163.08 L164.00 163.08 L164.50 163.08 L165.00 163.08 L165.50 163.08 L166.00 163.08 L166.50 163.08 L167.00 163.08 L167.50 163.08 L168.00 163.07 L168.50 163.07 L169.00 163.07 L169.50 163.07 L170.00 163.07 L170.50 163.07 L171.00 163.07 L171.50 163.06 L172.00 163.06 L172.50 163.06 L173.00 163.06 L173.50 163.06 L174.00 163.06 L174.50 163.05 L175.00 163.05 L175.50 163.05 L176.00 163.05 L176.50 163.04 L177.00 163.04 L177.50 163.04 L178.00 163.03 L178.50 163.03 L179.00 163.03 L179.50 163.02 L180.00 163.02 L180.50 163.02 L181.00 163.01 L181.50 163.01 L182.00 163.00 L182.50 163.00 L183.00 163.00 L183.50 162.99 L184.00 162.99 L184.50 162.98 L185.00 162.97 L185.50 162.97 L186.00 162.96 L186.50 162.96 L187.00 162.95 L187.50 162.94 L188.00 162.93 L188.50 162.93 L189.00 162.92 L189.50 162.91 L190.00 162.90 L190.50 162.89 L191.00 162.88 L191.50 162.87 L192.00 162.86 L192.50 162.85 L193.00 162.84 L193.50 162.82 L194.00 162.81 L194.50 162.80 L195.00 162.78 L195.50 162.77 L196.00 162.75 L196.50 162.73 L197.00 162.72 L197.50 162.70 L198.00 162.68 L198.50 162.66 L199.00 162.64 L199.50 162.62 L200.00 162.60 L200.50 162.57 L201.00 162.55 L201.50 162.52 L202.00 162.50 L202.50 162.47 L203.00 162.44 L203.50 162.41 L204.00 162.38 L204.50 162.34 L205.00 162.31 L205.50 162.27 L206.00 162.23 L206.50 162.19 L207.00 162.15 L207.50 162.11 L208.00 162.06 L208.50 162.02 L209.00 161.97 L209.50 161.91 L210.00 161.86 L210.50 161.81 L211.00 161.75 L211.50 161.69 L212.00 161.62 L212.50 161.56 L213.00 161.49 L213.50 161.42 L214.00 161.34 L214.50 161.27 L215.00 161.19 L215.50 161.10 L216.00 161.02 L216.50 160.93 L217.00 160.83 L217.50 160.74 L218.00 160.64 L218.50 160.53 L219.00 160.42 L219.50 160.31 L220.00 160.20 L220.50 160.08 L221.00 159.95 L221.50 159.82 L222.00 159.69 L222.50 159.55 L223.00 159.41 L223.50 159.26 L224.00 159.11 L224.50 158.95 L225.00 158.79 L225.50 158.63 L226.00 158.45 L226.50 158.28 L227.00 158.10 L227.50 157.91 L228.00 157.72 L228.50 157.52 L229.00 157.31 L229.50 157.11 L230.00 156.89 L230.50 156.67 L231.00 156.45 L231.50 156.22 L232.00 155.98 L232.50 155.74 L233.00 155.49 L233.50 155.24 L234.00 154.98 L234.50 154.72 L235.00 154.45 L235.50 154.18 L236.00 153.90 L236.50 153.61 L237.00 153.32 L237.50 153.03 L238.00 152.73 L238.50 152.42 L239.00 152.11 L239.50 151.80 L240.00 151.48 L240.50 151.15 L241.00 150.82 L241.50 150.49 L242.00 150.15 L242.50 149.81 L243.00 149.46 L243.50 149.11 L244.00 148.75 L244.50 148.39 L245.00 148.03 L245.50 147.66 L246.00 147.29 L246.50 146.92 L247.00 146.54 L247.50 146.16 L248.00 145.78 L248.50 145.39 L249.00 145.00 L249.50 144.61 L250.00 144.21 L250.50 143.81 L251.00 143.41 L251.50 143.00 L252.00 142.60 L252.50 142.19 L253.00 141.77 L253.50 141.36 L254.00 140.94 L254.50 140.52 L255.00 140.10 L255.50 139.68 L256.00 139.26 L256.50 138.83 L257.00 138.40 L257.50 137.97 L258.00 137.54 L258.50 137.11 L259.00 136.67 L259.50 136.24 L260.00 135.80 L260.50 135.36 L261.00 134.92 L261.50 134.48 L262.00 134.03 L262.50 133.59 L263.00 133.15 L263.50 132.70 L264.00 132.25 L264.50 131.81 L265.00 131.36 L265.50 130.91 L266.00 130.46 L266.50 130.01 L267.00 129.55 L267.50 129.10 L268.00 128.65 L268.50 128.19 L269.00 127.74 L269.50 127.28 L270.00 126.83 L270.50 126.37 L271.00 125.91 L271.50 125.46 L272.00 125.00 L272.50 124.54 L273.00 124.08 L273.50 123.62 L274.00 123.16 L274.50 122.70 L275.00 122.24 L275.50 121.78 L276.00 121.32 L276.50 120.85 L277.00 120.39 L277.50 119.93 L278.00 119.47 L278.50 119.00 L279.00 118.54 L279.50 118.08 L280.00 117.61 L280.50 117.15 L281.00 116.69 L281.50 116.22 L282.00 115.76 L282.50 115.29 L283.00 114.83 L283.50 114.36 L284.00 113.90 L284.50 113.43 L285.00 112.97 L285.50 112.50 L286.00 112.03 L286.50 111.57 L287.00 111.10 L287.50 110.63 L288.00 110.17 L288.50 109.70 L289.00 109.24 L289.50 108.77 L290.00 108.30 L290.50 107.83 L291.00 107.37 L291.50 106.90 L292.00 106.43 L292.50 105.97 L293.00 105.50 L293.50 105.03 L294.00 104.56 L294.50 104.10 L295.00 103.63 L295.50 103.16 L296.00 102.69 L296.50 102.23 L297.00 101.76 L297.50 101.29 L298.00 100.82 L298.50 100.36 L299.00 99.89 L299.50 99.42 L300.00 98.95 L300.50 98.48 L301.00 98.01 L301.50 97.55 L302.00 97.08 L302.50 96.61 L303.00 96.14 L303.50 95.67 L304.00 95.21 L304.50 94.74 L305.00 94.27 L305.50 93.80 L306.00 93.33 L306.50 92.86 L307.00 92.40 L307.50 91.93 L308.00 91.46 L308.50 90.99 L309.00 90.52 L309.50 90.05 L310.00 89.58 L310.50 89.12 L311.00 88.65 L311.50 88.18 L312.00 87.71 L312.50 87.24 L313.00 86.77 L313.50 86.31 L314.00 85.84 L314.50 85.37 L315.00 84.90 L315.50 84.43 L316.00 83.96 L316.50 83.49 L317.00 83.02 L317.50 82.56 L318.00 82.09 L318.50 81.62 L319.00 81.15 L319.50 80.68 L320.00 80.21 L320.50 79.74 L321.00 79.28 L321.50 78.81 L322.00 78.34 L322.50 77.87 L323.00 77.40 L323.50 76.93 L324.00 76.46 L324.50 75.99 L325.00 75.53 L325.50 75.06 L326.00 74.59 L326.50 74.12 L327.00 73.65 L327.50 73.18 L328.00 72.71 L328.50 72.24 L329.00 71.78 L329.50 71.31 L330.00 70.84 L330.50 70.37 L331.00 69.90 L331.50 69.43 L332.00 68.96 L332.50 68.49 L333.00 68.03 L333.50 67.56 L334.00 67.09 L334.50 66.62 L335.00 66.15 L335.50 65.68 L336.00 65.21 L336.50 64.74 L337.00 64.28 L337.50 63.81 L338.00 63.34 L338.50 62.87 L339.00 62.40 L339.50 61.93 L340.00 61.46 L340.50 60.99 L341.00 60.53 L341.50 60.06 L342.00 59.59 L342.50 59.12 L343.00 58.65 L343.50 58.18 L344.00 57.71 L344.50 57.24 L345.00 56.77 L345.50 56.31 L346.00 55.84 L346.50 55.37 L347.00 54.90 L347.50 54.43 L348.00 53.96 L348.50 53.49 L349.00 53.02 L349.50 52.56 L350.00 52.09 L350.50 51.62 L351.00 51.15 L351.50 50.68 L352.00 50.21 L352.50 49.74 L353.00 49.27 L353.50 48.81 L354.00 48.34 L354.50 47.87 L355.00 47.40 L355.50 46.93 L356.00 46.46" stroke="#2020ff" stroke-width="1.40"/>
<path d="M61.20 188.25 L61.70 188.25 L62.20 188.25 L62.70 188.25 L63.20 188.25 L63.70 188.25 L64.20 188.25 L64.70 188.25 L65.20 188.25 L65.70 188.25 L66.20 188.25 L66.70 188.25 L67.20 188.25 L67.70 188.25 L68.20 188.25 L68.70 188.25 L69.20 188.25 L69.70 188.25 L70.20 188.25 L70.70 188.25 L71.20 188.25 L71.70 188.25 L72.20 188.25 L72.70 188.25 L73.20 188.25 L73.70 188.25 L74.20 188.25 L74.70 188.25 L75.20 188.25 L75.70 188.25 L76.20 188.25 L76.70 188.25 L77.20 188.25 L77.70 188.25 L78.20 188.25 L78.70 188.25 L79.20 188.25 L79.70 188.25 L80.20 188.25 L80.70 188.25 L81.20 188.25 L81.70 188.25 L82.20 188.25 L82.70 188.25 L83.20 188.25 L83.70 188.25 L84.20 188.25 L84.70 188.25 L85.20 188.25 L85.70 188.25 L86.20 188.25 L86.70 188.25 L87.20 188.25 L87.70 188.25 L88.20 188.25 L88.70 188.25 L89.20 188.25 L89.70 188.25 L90.20 188.25 L90.70 188.25 L91.20 188.25 L91.70 188.25 L92.20 188.25 L92.70 188.25 L93.20 188.25 L93.70 188.25 L94.20 188.25 L94.70 188.25 L95.20 188.25 L95.70 188.25 L96.20 188.25 L96.70 188.25 L97.20 188.25 L97.70 188.25 L98.20 188.25 L98.70 188.25 L99.20 188.25 L99.70 188.25 L100.20 188.25 L100.70 188.25 L101.20 188.25 L101.70 188.25 L102.20 188.25 L102.70 188.25 L103.20 188.25 L103.70 188.25 L104.20 188.25 L104.70 188.25 L105.20 188.25 L105.70 188.25 L106.20 188.25 L106.70 188.25 L107.20 188.25 L107.70 188.25 L108.20 188.25 L108.70 188.25 L109.20 188.25 L109.70 188.25 L110.20 188.25 L110.70 188.25 L111.20 188.25 L111.70 188.25 L112.20 188.25 L112.70 188.25 L113.20 188.25 L113.70 188.25 L114.20 188.25 L114.70 188.25 L115.20 188.25 L115.70 188.25 L116.20 188.25 L116.70 188.25 L117.20 188.25 L117.70 188.25 L118.20 188.25 L118.70 188.25 L119.20 188.25 L119.70 188.25 L120.20 188.25 L120.70 188.25 L121.20 188.25 L121.70 188.25 L122.20 188.25 L122.70 188.25 L123.20 188.25 L123.70 188.25 L124.20 188.25 L124.70 188.25 L125.20 188.25 L125.70 188.25 L126.20 188.25 L126.70 188.25 L127.20 188.25 L127.70 188.25 L128.20 188.25 L128.70 188.25 L129.20 188.25 L129.70 188.25 L130.20 188.25 L130.70 188.25 L131.20 188.25 L131.70 188.25 L132.20 188.25 L132.70 188.25 L133.20 188.25 L133.70 188.25 L134.20 188.25 L134.70 188.25 L135.20 188.25 L135.70 188.25 L136.20 188.25 L136.70 188.24 L137.20 188.24 L137.70 188.24 L138.20 188.24 L138.70 188.24 L139.20 188.24 L139.70 188.24 L140.20 188.24 L140.70 188.24 L141.20 188.24 L141.70 188.24 L142.20 188.24 L142.70 188.24 L143.20 188.24 L143.70 188.24 L144.20 188.24 L144.70 188.24 L145.20 188.24 L145.70 188.24 L146.20 188.24 L146.70 188.24 L147.20 188.24 L147.70 188.24 L148.20 188.24 L148.70 188.23 L149.20 188.23 L149.70 188.23 L150.20 188.23 L150.70 188.23 L151.20 188.23 L151.70 188.23 L152.20 188.23 L152.70 188.23 L153.20 188.23 L153.70 188.23 L154.20 188.22 L154.70 188.22 L155.20 188.22 L155.70 188.22 L156.20 188.22 L156.70 188.22 L157.20 188.22 L157.70 188.21 L158.20 188.21 L158.70 188.21 L159.20 188.21 L159.70 188.21 L160.20 188.20 L160.70 188.20 L161.20 188.20 L161.70 188.20 L162.20 188.19 L162.70 188.19 L163.20 188.19 L163.70 188.19 L164.20 188.18 L164.70 188.18 L165.20 188.18 L165.70 188.17 L166.20 188.17 L166.70 188.17 L167.20 188.16 L167.70 188.16 L168.20 188.15 L168.70 188.15 L169.20 188.14 L169.70 188.14 L170.20 188.13 L170.70 188.13 L171.20 188.12 L171.70 188.12 L172.20 188.11 L172.70 188.10 L173.20 188.10 L173.70 188.09 L174.20 188.08 L174.70 188.07 L175.20 188.06 L175.70 188.06 L176.20 188.05 L176.70 188.04 L177.20 188.03 L177.70 188.02 L178.20 188.00 L178.70 187.99 L179.20 187.98 L179.70 187.97 L180.20 187.95 L180.70 187.94 L181.20 187.93 L181.70 187.91 L182.20 187.89 L182.70 187.88 L183.20 187.86 L183.70 187.84 L184.20 187.82 L184.70 187.80 L185.20 187.78 L185.70 187.76 L186.20 187.74 L186.70 187.71 L187.20 187.69 L187.70 187.66 L188.20 187.63 L188.70 187.61 L189.20 187.58 L189.70 187.54 L190.20 187.51 L190.70 187.48 L191.20 187.44 L191.70 187.41 L192.20 187.37 L192.70 187.33 L193.20 187.28 L193.70 187.24 L194.20 187.19 L194.70 187.15 L195.20 187.10 L195.70 187.04 L196.20 186.99 L196.70 186.93 L197.20 186.87 L197.70 186.81 L198.20 186.75 L198.70 186.68 L199.20 186.61 L199.70 186.54 L200.20 186.46 L200.70 186.39 L201.20 186.30 L201.70 186.22 L202.20 186.13 L202.70 186.04 L203.20 185.95 L203.70 185.85 L204.20 185.75 L204.70 185.64 L205.20 185.53 L205.70 185.42 L206.20 185.30 L206.70 185.18 L207.20 185.05 L207.70 184.92 L208.20 184.79 L208.70 184.65 L209.20 184.50 L209.70 184.35 L210.20 184.20 L210.70 184.04 L211.20 183.88 L211.70 183.71 L212.20 183.53 L212.70 183.36 L213.20 183.17 L213.70 182.98 L214.20 182.79 L214.70 182.59 L215.20 182.38 L215.70 182.17 L216.20 181.95 L216.70 181.73 L217.20 181.51 L217.70 181.27 L218.20 181.03 L218.70 180.79 L219.20 180.54 L219.70 180.29 L220.20 180.03 L220.70 179.76 L221.20 179.49 L221.70 179.21 L222.20 178.93 L222.70 178.65 L223.20 178.35 L223.70 178.06 L224.20 177.75 L224.70 177.45 L225.20 177.13 L225.70 176.82 L226.20 176.50 L226.70 176.17 L227.20 175.84 L227.70 175.50 L228.20 175.16 L228.70 174.82 L229.20 174.47 L229.70 174.12 L230.20 173.76 L230.70 173.40 L231.20 173.04 L231.70 172.67 L232.20 172.30 L232.70 171.92 L233.20 171.54 L233.70 171.16 L234.20 170.77 L234.70 170.38 L235.20 169.99 L235.70 169.60 L236.20 169.20 L236.70 168.80 L237.20 168.40 L237.70 167.99 L238.20 167.58 L238.70 167.17 L239.20 166.76 L239.70 166.34 L240.20 165.93 L240.70 165.51 L241.20 165.08 L241.70 164.66 L242.20 164.24 L242.70 163.81 L243.20 163.38 L243.70 162.95 L244.20 162.52 L244.70 162.08 L245.20 161.65 L245.70 161.21 L246.20 160.77 L246.70 160.33 L247.20 159.89 L247.70 159.45 L248.20 159.01 L248.70 158.56 L249.20 158.12 L249.70 157.67 L250.20 157.22 L250.70 156.78 L251.20 156.33 L251.70 155.88 L252.20 155.43 L252.70 154.97 L253.20 154.52 L253.70 154.07 L254.20 153.62 L254.70 153.16 L255.20 152.71 L255.70 152.25 L256.20 151.79 L256.70 151.34 L257.20 150.88 L257.70 150.42 L258.20 149.96 L258.70 149.50 L259.20 149.05 L259.70 148.59 L260.20 148.13 L260.70 147.66 L261.20 147.20 L261.70 146.74 L262.20 146.28 L262.70 145.82 L263.20 145.36 L263.70 144.89 L264.20 144.43 L264.70 143.97 L265.20 143.51 L265.70 143.04 L266.20 142.58 L266.70 142.11 L267.20 141.65 L267.70 141.19 L268.20 140.72 L268.70 140.26 L269.20 139.79 L269.70 139.33 L270.20 138.86 L270.70 138.39 L271.20 137.93 L271.70 137.46 L272.20 137.00 L272.70 136.53 L273.20 136.06 L273.70 135.60 L274.20 135.13 L274.70 134.67 L275.20 134.20 L275.70 133.73 L276.20 133.27 L276.70 132.80 L277.20 132.33 L277.70 131.86 L278.20 131.40 L278.70 130.93 L279.20 130.46 L279.70 129.99 L280.20 129.53 L280.70 129.06 L281.20 128.59 L281.70 128.12 L282.20 127.66 L282.70 127.19 L283.20 126.72 L283.70 126.25 L284.20 125.79 L284.70 125.32 L285.20 124.85 L285.70 124.38 L286.20 123.91 L286.70 123.45 L287.20 122.98 L287.70 122.51 L288.20 122.04 L288.70 121.57 L289.20 121.11 L289.70 120.64 L290.20 120.17 L290.70 119.70 L291.20 119.23 L291.70 118.76 L292.20 118.30 L292.70 117.83 L293.20 117.36 L293.70 116.89 L294.20 116.42 L294.70 115.95 L295.20 115.48 L295.70 115.02 L296.20 114.55 L296.70 114.08 L297.20 113.61 L297.70 113.14 L298.20 112.67 L298.70 112.20 L299.20 111.74 L299.70 111.27 L300.20 110.80 L300.70 110.33 L301.20 109.86 L301.70 109.39 L302.20 108.92 L302.70 108.46 L303.20 107.99 L303.70 107.52 L304.20 107.05 L304.70 106.58 L305.20 106.11 L305.70 105.64 L306.20 105.18 L306.70 104.71 L307.20 104.24 L307.70 103.77 L308.20 103.30 L308.70 102.83 L309.20 102.36 L309.70 101.89 L310.20 101.43 L310.70 100.96 L311.20 100.49 L311.70 100.02 L312.20 99.55 L312.70 99.08 L313.20 98.61 L313.70 98.14 L314.20 97.68 L314.70 97.21 L315.20 96.74 L315.70 96.27 L316.20 95.80 L316.70 95.33 L317.20 94.86 L317.70 94.39 L318.20 93.93 L318.70 93.46 L319.20 92.99 L319.70 92.52 L320.20 92.05 L320.70 91.58 L321.20 91.11 L321.70 90.64 L322.20 90.18 L322.70 89.71 L323.20 89.24 L323.70 88.77 L324.20 88.30 L324.70 87.83 L325.20 87.36 L325.70 86.89 L326.20 86.43 L326.70 85.96 L327.20 85.49 L327.70 85.02 L328.20 84.55 L328.70 84.08 L329.20 83.61 L329.70 83.14 L330.20 82.67 L330.70 82.21 L331.20 81.74 L331.70 81.27 L332.20 80.80 L332.70 80.33 L333.20 79.86 L333.70 79.39 L334.20 78.92 L334.70 78.46 L335.20 77.99 L335.70 77.52 L336.20 77.05 L336.70 76.58 L337.20 76.11 L337.70 75.64 L338.20 75.17 L338.70 74.71 L339.20 74.24 L339.70 73.77 L340.20 73.30 L340.70 72.83 L341.20 72.36 L341.70 71.89 L342.20 71.42 L342.70 70.95 L343.20 70.49 L343.70 70.02 L344.20 69.55 L344.70 69.08 L345.20 68.61 L345.70 68.14 L346.20 67.67 L346.70 67.20 L347.20 66.74 L347.70 66.27 L348.20 65.80 L348.70 65.33 L349.20 64.86 L349.70 64.39 L350.20 63.92 L350.70 63.45 L351.20 62.99 L351.70 62.52 L352.20 62.05 L352.70 61.58 L353.20 61.11 L353.70 60.64 L354.20 60.17 L354.70 59.70 L355.20 59.23 L355.70 58.77" stroke="#2020ff" stroke-width="1.30" stroke-dasharray="3.8 1.25"/>
</g>
<path d="M75.98 228.10v-2.10M75.98 20.90v2.10M84.63 228.10v-2.10M84.63 20.90v2.10M90.77 228.10v-2.10M90.77 20.90v2.10M95.53 228.10v-2.10M95.53 20.90v2.10M99.41 228.10v-2.10M99.41 20.90v2.10M102.70 228.10v-2.10M102.70 20.90v2.10M105.55 228.10v-2.10M105.55 20.90v2.10M108.06 228.10v-2.10M108.06 20.90v2.10M110.31 228.10v-3.60M110.31 20.90v3.60M125.09 228.10v-2.10M125.09 20.90v2.10M133.74 228.10v-2.10M133.74 20.90v2.10M139.87 228.10v-2.10M139.87 20.90v2.10M144.63 228.10v-2.10M144.63 20.90v2.10M148.52 228.10v-2.10M148.52 20.90v2.10M151.81 228.10v-2.10M151.81 20.90v2.10M154.66 228.10v-2.10M154.66 20.90v2.10M157.17 228.10v-2.10M157.17 20.90v2.10M159.42 228.10v-3.60M159.42 20.90v3.60M174.20 228.10v-2.10M174.20 20.90v2.10M182.85 228.10v-2.10M182.85 20.90v2.10M188.98 228.10v-2.10M188.98 20.90v2.10M193.74 228.10v-2.10M193.74 20.90v2.10M197.63 228.10v-2.10M197.63 20.90v2.10M200.92 228.10v-2.10M200.92 20.90v2.10M203.77 228.10v-2.10M203.77 20.90v2.10M206.28 228.10v-2.10M206.28 20.90v2.10M208.53 228.10v-3.60M208.53 20.90v3.60M223.31 228.10v-2.10M223.31 20.90v2.10M231.96 228.10v-2.10M231.96 20.90v2.10M238.09 228.10v-2.10M238.09 20.90v2.10M242.85 228.10v-2.10M242.85 20.90v2.10M246.74 228.10v-2.10M246.74 20.90v2.10M250.03 228.10v-2.10M250.03 20.90v2.10M252.87 228.10v-2.10M252.87 20.90v2.10M255.39 228.10v-2.10M255.39 20.90v2.10M257.63 228.10v-3.60M257.63 20.90v3.60M272.42 228.10v-2.10M272.42 20.90v2.10M281.06 228.10v-2.10M281.06 20.90v2.10M287.20 228.10v-2.10M287.20 20.90v2.10M291.96 228.10v-2.10M291.96 20.90v2.10M295.85 228.10v-2.10M295.85 20.90v2.10M299.13 228.10v-2.10M299.13 20.90v2.10M301.98 228.10v-2.10M301.98 20.90v2.10M304.49 228.10v-2.10M304.49 20.90v2.10M306.74 228.10v-3.60M306.74 20.90v3.60M321.52 228.10v-2.10M321.52 20.90v2.10M330.17 228.10v-2.10M330.17 20.90v2.10M336.31 228.10v-2.10M336.31 20.90v2.10M341.07 228.10v-2.10M341.07 20.90v2.10M344.96 228.10v-2.10M344.96 20.90v2.10M348.24 228.10v-2.10M348.24 20.90v2.10M351.09 228.10v-2.10M351.09 20.90v2.10M353.60 228.10v-2.10M353.60 20.90v2.10M61.20 221.17h2.00M355.85 221.17h-2.00M61.20 217.12h2.00M355.85 217.12h-2.00M61.20 214.24h2.00M355.85 214.24h-2.00M61.20 212.01h2.00M355.85 212.01h-2.00M61.20 210.19h2.00M355.85 210.19h-2.00M61.20 208.64h2.00M355.85 208.64h-2.00M61.20 207.31h2.00M355.85 207.31h-2.00M61.20 206.13h2.00M355.85 206.13h-2.00M61.20 205.08h3.30M355.85 205.08h-3.30M61.20 198.15h2.00M355.85 198.15h-2.00M61.20 194.09h2.00M355.85 194.09h-2.00M61.20 191.22h2.00M355.85 191.22h-2.00M61.20 188.99h2.00M355.85 188.99h-2.00M61.20 187.16h2.00M355.85 187.16h-2.00M61.20 185.62h2.00M355.85 185.62h-2.00M61.20 184.29h2.00M355.85 184.29h-2.00M61.20 183.11h2.00M355.85 183.11h-2.00M61.20 182.06h3.30M355.85 182.06h-3.30M61.20 175.13h2.00M355.85 175.13h-2.00M61.20 171.07h2.00M355.85 171.07h-2.00M61.20 168.19h2.00M355.85 168.19h-2.00M61.20 165.96h2.00M355.85 165.96h-2.00M61.20 164.14h2.00M355.85 164.14h-2.00M61.20 162.60h2.00M355.85 162.60h-2.00M61.20 161.26h2.00M355.85 161.26h-2.00M61.20 160.09h2.00M355.85 160.09h-2.00M61.20 159.03h3.30M355.85 159.03h-3.30M61.20 152.10h2.00M355.85 152.10h-2.00M61.20 148.05h2.00M355.85 148.05h-2.00M61.20 145.17h2.00M355.85 145.17h-2.00M61.20 142.94h2.00M355.85 142.94h-2.00M61.20 141.12h2.00M355.85 141.12h-2.00M61.20 139.58h2.00M355.85 139.58h-2.00M61.20 138.24h2.00M355.85 138.24h-2.00M61.20 137.06h2.00M355.85 137.06h-2.00M61.20 136.01h3.30M355.85 136.01h-3.30M61.20 129.08h2.00M355.85 129.08h-2.00M61.20 125.03h2.00M355.85 125.03h-2.00M61.20 122.15h2.00M355.85 122.15h-2.00M61.20 119.92h2.00M355.85 119.92h-2.00M61.20 118.10h2.00M355.85 118.10h-2.00M61.20 116.56h2.00M355.85 116.56h-2.00M61.20 115.22h2.00M355.85 115.22h-2.00M61.20 114.04h2.00M355.85 114.04h-2.00M61.20 112.99h3.30M355.85 112.99h-3.30M61.20 106.06h2.00M355.85 106.06h-2.00M61.20 102.00h2.00M355.85 102.00h-2.00M61.20 99.13h2.00M355.85 99.13h-2.00M61.20 96.90h2.00M355.85 96.90h-2.00M61.20 95.07h2.00M355.85 95.07h-2.00M61.20 93.53h2.00M355.85 93.53h-2.00M61.20 92.20h2.00M355.85 92.20h-2.00M61.20 91.02h2.00M355.85 91.02h-2.00M61.20 89.97h3.30M355.85 89.97h-3.30M61.20 83.04h2.00M355.85 83.04h-2.00M61.20 78.98h2.00M355.85 78.98h-2.00M61.20 76.11h2.00M355.85 76.11h-2.00M61.20 73.87h2.00M355.85 73.87h-2.00M61.20 72.05h2.00M355.85 72.05h-2.00M61.20 70.51h2.00M355.85 70.51h-2.00M61.20 69.18h2.00M355.85 69.18h-2.00M61.20 68.00h2.00M355.85 68.00h-2.00M61.20 66.94h3.30M355.85 66.94h-3.30M61.20 60.01h2.00M355.85 60.01h-2.00M61.20 55.96h2.00M355.85 55.96h-2.00M61.20 53.08h2.00M355.85 53.08h-2.00M61.20 50.85h2.00M355.85 50.85h-2.00M61.20 49.03h2.00M355.85 49.03h-2.00M61.20 47.49h2.00M355.85 47.49h-2.00M61.20 46.15h2.00M355.85 46.15h-2.00M61.20 44.98h2.00M355.85 44.98h-2.00M61.20 43.92h3.30M355.85 43.92h-3.30M61.20 36.99h2.00M355.85 36.99h-2.00M61.20 32.94h2.00M355.85 32.94h-2.00M61.20 30.06h2.00M355.85 30.06h-2.00M61.20 27.83h2.00M355.85 27.83h-2.00M61.20 26.01h2.00M355.85 26.01h-2.00M61.20 24.47h2.00M355.85 24.47h-2.00M61.20 23.13h2.00M355.85 23.13h-2.00M61.20 21.95h2.00M355.85 21.95h-2.00" stroke="#000" stroke-width="1.35" fill="none"/>
<rect x="61.20" y="20.90" width="294.65" height="207.20" fill="none" stroke="#000" stroke-width="1.8"/>
<g fill="#000">
<text transform="translate(46.84 244.75) scale(0.990 1)" font-size="14.90">10</text><path d="M64.85 234.95H69.35" stroke="#000" stroke-width="1.1" fill="none"/><text transform="translate(69.65 238.25) scale(0.990 1)" font-size="10.90">6</text>
<text transform="translate(95.95 244.75) scale(0.990 1)" font-size="14.90">10</text><path d="M113.96 234.95H118.46" stroke="#000" stroke-width="1.1" fill="none"/><text transform="translate(118.76 238.25) scale(0.990 1)" font-size="10.90">5</text>
<text transform="translate(145.06 244.75) scale(0.990 1)" font-size="14.90">10</text><path d="M163.07 234.95H167.57" stroke="#000" stroke-width="1.1" fill="none"/><text transform="translate(167.87 238.25) scale(0.990 1)" font-size="10.90">4</text>
<text transform="translate(194.17 244.75) scale(0.990 1)" font-size="14.90">10</text><path d="M212.18 234.95H216.68" stroke="#000" stroke-width="1.1" fill="none"/><text transform="translate(216.98 238.25) scale(0.990 1)" font-size="10.90">3</text>
<text transform="translate(243.28 244.75) scale(0.990 1)" font-size="14.90">10</text><path d="M261.28 234.95H265.78" stroke="#000" stroke-width="1.1" fill="none"/><text transform="translate(266.08 238.25) scale(0.990 1)" font-size="10.90">2</text>
<text transform="translate(292.38 244.75) scale(0.990 1)" font-size="14.90">10</text><path d="M310.39 234.95H314.89" stroke="#000" stroke-width="1.1" fill="none"/><text transform="translate(315.19 238.25) scale(0.990 1)" font-size="10.90">1</text>
<text transform="translate(344.89 244.75) scale(0.941 1)" font-size="14.90">10</text><text transform="translate(361.90 238.25) scale(0.990 1)" font-size="10.90">0</text>
<text transform="translate(23.91 233.55) scale(0.945 1)" font-size="15.50">10</text><path d="M41.90 224.05H46.40" stroke="#000" stroke-width="1.1" fill="none"/><text transform="translate(46.70 227.35) scale(0.970 1)" font-size="11.40">14</text>
<text transform="translate(23.91 210.53) scale(0.945 1)" font-size="15.50">10</text><path d="M41.90 201.03H46.40" stroke="#000" stroke-width="1.1" fill="none"/><text transform="translate(46.70 204.33) scale(0.970 1)" font-size="11.40">13</text>
<text transform="translate(23.91 187.51) scale(0.945 1)" font-size="15.50">10</text><path d="M41.90 178.01H46.40" stroke="#000" stroke-width="1.1" fill="none"/><text transform="translate(46.70 181.31) scale(0.970 1)" font-size="11.40">12</text>
<text transform="translate(23.91 164.48) scale(0.945 1)" font-size="15.50">10</text><path d="M41.90 154.98H46.40" stroke="#000" stroke-width="1.1" fill="none"/><text transform="translate(46.70 158.28) scale(0.970 1)" font-size="11.40">11</text>
<text transform="translate(23.91 141.46) scale(0.945 1)" font-size="15.50">10</text><path d="M41.90 131.96H46.40" stroke="#000" stroke-width="1.1" fill="none"/><text transform="translate(46.70 135.26) scale(0.970 1)" font-size="11.40">10</text>
<text transform="translate(30.06 118.44) scale(0.945 1)" font-size="15.50">10</text><path d="M48.05 108.94H52.55" stroke="#000" stroke-width="1.1" fill="none"/><text transform="translate(52.85 112.24) scale(0.970 1)" font-size="11.40">9</text>
<text transform="translate(30.06 95.42) scale(0.945 1)" font-size="15.50">10</text><path d="M48.05 85.92H52.55" stroke="#000" stroke-width="1.1" fill="none"/><text transform="translate(52.85 89.22) scale(0.970 1)" font-size="11.40">8</text>
<text transform="translate(30.06 72.39) scale(0.945 1)" font-size="15.50">10</text><path d="M48.05 62.89H52.55" stroke="#000" stroke-width="1.1" fill="none"/><text transform="translate(52.85 66.19) scale(0.970 1)" font-size="11.40">7</text>
<text transform="translate(30.06 49.37) scale(0.945 1)" font-size="15.50">10</text><path d="M48.05 39.87H52.55" stroke="#000" stroke-width="1.1" fill="none"/><text transform="translate(52.85 43.17) scale(0.970 1)" font-size="11.40">6</text>
<text transform="translate(30.06 26.35) scale(0.945 1)" font-size="15.50">10</text><path d="M48.05 16.85H52.55" stroke="#000" stroke-width="1.1" fill="none"/><text transform="translate(52.85 20.15) scale(0.970 1)" font-size="11.40">5</text>
<text transform="translate(177.8 267.6) scale(0.93 1)" font-size="16">m</text>
<text x="190.5" y="271.3" font-size="11">Z'</text>
<text transform="translate(200.1 267.6) scale(0.955 1)" font-size="16">[GeV]</text>
<g transform="translate(14.75 132) rotate(-90)"><text x="0.4" y="0" font-size="16">b</text><text x="8.8" y="2.2" font-size="11">n</text></g>
</g>
<path d="M83 37.30H108.6" stroke="#2020ff" stroke-width="1.3" fill="none"/>
<text x="111.6" y="39.80" font-size="6.6" textLength="32.2" lengthAdjust="spacingAndGlyphs" fill="#000">Si−Reactor</text>
<path d="M83 49.40H107.3" stroke="#2020ff" stroke-width="1.3" fill="none" stroke-dasharray="3.8 1.25"/>
<text x="111.6" y="51.90" font-size="6.6" textLength="35.3" lengthAdjust="spacingAndGlyphs" fill="#000">Si II−reactor</text>
<path d="M83 61.70H108.6" stroke="#ff2020" stroke-width="1.3" fill="none"/>
<text x="111.6" y="64.20" font-size="6.6" textLength="24.0" lengthAdjust="spacingAndGlyphs" fill="#000">Si−Solar</text>
<path d="M83 73.80H107.3" stroke="#ff2020" stroke-width="1.3" fill="none" stroke-dasharray="3.8 1.25"/>
<text x="111.6" y="76.30" font-size="6.6" textLength="29.8" lengthAdjust="spacingAndGlyphs" fill="#000">Si II−Solar</text>
<path d="M83 86.00H108.0" stroke="#ff2020" stroke-width="1.3" fill="none" stroke-dasharray="1.9 1.3"/>
<text x="111.6" y="88.50" font-size="6.6" textLength="56.9" lengthAdjust="spacingAndGlyphs" fill="#000">Si II−Solar (low BG)</text>
</svg></body></html>
